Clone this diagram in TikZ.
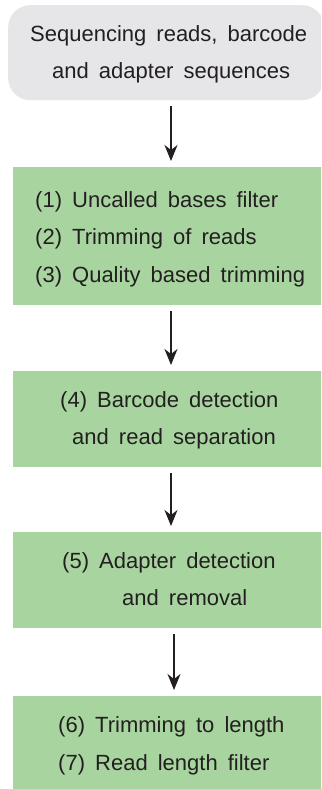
\documentclass[tikz,border=0pt]{standalone}
\usepackage{fontspec}
\setmainfont{Liberation Sans}
\newfontfamily\txtfont[WordSpace=1.65]{Liberation Sans}
\usetikzlibrary{arrows.meta}
\definecolor{boxgreen}{HTML}{A8D59F}
\definecolor{boxgray}{HTML}{E6E6E8}
\definecolor{ink}{HTML}{231F20}
\begin{document}
\begin{tikzpicture}[x=1pt,y=-1pt,
  greenbox/.style={draw=none,fill=boxgreen,rectangle,inner sep=0pt},
  graybox/.style={draw=none,fill=boxgray,rectangle,rounded corners=22pt,inner sep=0pt},
  txt/.style={anchor=base west,inner sep=0pt,text=ink,font=\txtfont\fontsize{22}{26}\selectfont},
  flow/.style={draw=ink,line width=1.3pt,-{Stealth[length=16pt,width=13pt,inset=5pt]},shorten <=6pt,shorten >=6pt}]
\useasboundingbox (0,0) rectangle (321,789);
\begin{scope}
\clip (0,0) rectangle (321,789);
\node[graybox,minimum width=316pt,minimum height=95pt,anchor=north west] (b1) at (8,5) {};
\node[greenbox,minimum width=312pt,minimum height=138pt,anchor=north west] (b2) at (13,167) {};
\node[greenbox,minimum width=312pt,minimum height=96pt,anchor=north west] (b3) at (13,371) {};
\node[greenbox,minimum width=312pt,minimum height=96pt,anchor=north west] (b4) at (13,532) {};
\node[greenbox,minimum width=312pt,minimum height=100pt,anchor=north west] (b5) at (13,696) {};
\end{scope}
\node[txt] (t1a) at (30,41.5) {Sequencing reads, barcode};
\node[txt] (t1b) at (52,78.5) {and adapter sequences};
\node[txt] (t2a) at (35,207) {(1) Uncalled bases filter};
\node[txt] (t2b) at (35,244.5) {(2) Trimming of reads};
\node[txt] (t2c) at (35,282) {(3) Quality based trimming};
\node[txt] (t3a) at (60,407) {(4) Barcode detection};
\node[txt] (t3b) at (72,444) {and read separation};
\node[txt] (t4a) at (62,568) {(5) Adapter detection};
\node[txt] (t4b) at (122,605.5) {and removal};
\node[txt] (t5a) at (58,732) {(6) Trimming to length};
\node[txt] (t5b) at (58,770) {(7) Read length filter};
\draw[flow] ([xshift=2pt]b1.south -| 169,0) -- ([xshift=2pt]b2.north -| 169,0);
\draw[flow] ([xshift=2pt]b2.south -| 169,0) -- ([xshift=2pt]b3.north -| 169,0);
\draw[flow] ([xshift=2pt]b3.south -| 169,0) -- ([xshift=2pt]b4.north -| 169,0);
\draw[flow] ([xshift=5pt]b4.south -| 169,0) -- ([xshift=5pt]b5.north -| 169,0);
\end{tikzpicture}
\end{document}
